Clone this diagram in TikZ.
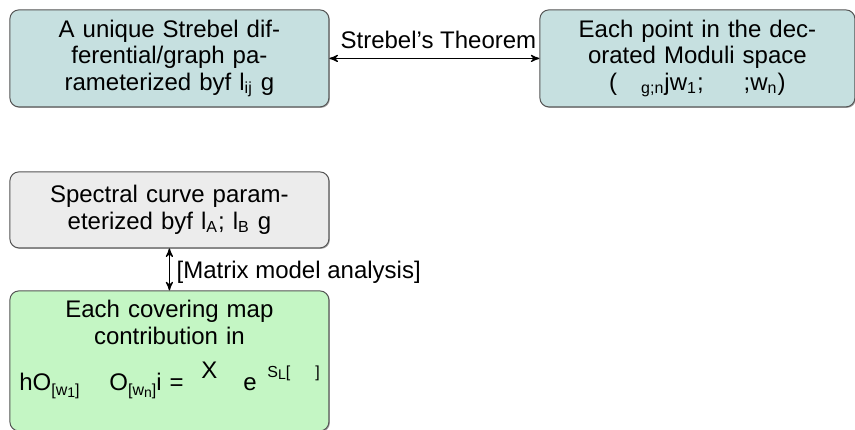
\documentclass[tikz,border=0pt]{standalone}
\usepackage{fontspec}
\setmainfont{Liberation Sans}
\usetikzlibrary{matrix,shapes,arrows,shadows}

\definecolor{moduli}{RGB}{198,224,224}
\definecolor{spectral}{RGB}{236,236,236}
\definecolor{covering}{RGB}{196,246,196}
\definecolor{rim}{RGB}{85,85,85}

% put a piece of a line at a fixed offset from the line start
\newcommand{\putat}[2]{\makebox[0pt][l]{\hspace*{#1}#2}}
\newcommand{\lowsub}[1]{\raisebox{-2.5pt}{\footnotesize #1}}

\begin{document}
\begin{tikzpicture}[font=\fontsize{12}{13.2}\selectfont]
  \tikzstyle{box} = [rectangle, rounded corners=4.5pt, draw=rim, line width=0.5pt,
    drop shadow={shadow xshift=0.5pt, shadow yshift=-0.5pt, opacity=0.6, fill=black!60},
    align=center, text width=150pt, minimum width=159.5pt, inner sep=2pt]
  \tikzstyle{link} = [<->, >=stealth', line width=0.6pt]
  \useasboundingbox (0,0) rectangle (427.5pt,-214.5pt);
  \matrix[matrix anchor=north west, inner sep=0pt, row sep=21pt, column sep=105pt] at (4.5pt,-4.5pt) {
    % first row
    \node (strebel) [box, fill=moduli, minimum height=48.5pt]
      {A unique Strebel dif-\\ferential/graph pa-\\rameterized byf l\textsubscript{ij} g};&
    \node (moduli) [box, fill=moduli, minimum height=48.5pt, text width=148pt, minimum width=157.5pt]
      {Each point in the dec-\\orated Moduli space\\(\hspace{12pt}\textsubscript{g;n}jw\textsubscript{1};\hspace{20pt};w\textsubscript{n})};\\[11pt]
    % second row
    \node (spectral) [box, fill=spectral, minimum height=38pt]
      {Spectral curve param-\\eterized byf l\textsubscript{A}; l\textsubscript{B} g};&
    \\
    % third row
    \node (covering) [box, fill=covering, minimum height=70pt]
      {Each covering map\\contribution in\\[7.8pt]%
       \makebox[150pt][l]{%
         \putat{0pt}{hO\lowsub{[w\raisebox{-1pt}{\scriptsize 1}]}}%
         \putat{45pt}{O\lowsub{[w\raisebox{-1pt}{\scriptsize n}]}i =}%
         \putat{91pt}{\raisebox{6pt}{X}}%
         \putat{112pt}{e}%
         \putat{124pt}{\raisebox{6.5pt}{\footnotesize S\raisebox{-1pt}{\scriptsize L}[}}%
         \putat{148pt}{\raisebox{6.5pt}{\footnotesize ]}}}\\[2.3pt]\mbox{}};&
    \\
  };
  \draw [link] (strebel) -- node[above=1pt, xshift=2pt] {Strebel's Theorem} (moduli);
  \draw [link] (spectral) -- node[right, yshift=-1.5pt] {[Matrix model analysis]} (covering);
\end{tikzpicture}
\end{document}
